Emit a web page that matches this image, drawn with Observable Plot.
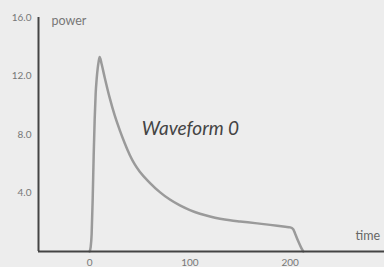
<!DOCTYPE html>
<html>
<head>
<meta charset="utf-8">
<script src="https://cdn.jsdelivr.net/npm/d3@7"></script>
<script src="https://cdn.jsdelivr.net/npm/@observablehq/plot@0.6"></script>
<style>
  html, body { margin: 0; padding: 0; background: #ededed; }
  #chart svg { display: block; background: #ededed; }
</style>
</head>
<body>
<div id="chart"></div>
<script>
const times  = [0, 1, 2, 3, 4, 5, 6, 7, 8, 9, 10, 12, 15, 20, 25, 30, 35, 40, 45, 50, 60, 70, 80, 90, 100, 110, 120, 130, 140, 150, 165, 180, 195, 200, 203, 205, 208, 211, 213];
const powers = [0, 0.3, 1.2, 3.5, 6.5, 9.0, 10.8, 11.8, 12.5, 13.0, 13.3, 12.8, 11.9, 10.5, 9.3, 8.3, 7.4, 6.6, 5.95, 5.45, 4.7, 4.06, 3.55, 3.15, 2.83, 2.58, 2.39, 2.24, 2.13, 2.05, 1.94, 1.82, 1.69, 1.65, 1.52, 1.2, 0.7, 0.25, 0];
const xTicks = [0, 100, 200];
const yTicks = [4, 8, 12, 16];
const seriesName = "Waveform 0";
const xLabel = "time";
const yLabel = "power";

const data = times.map((t, i) => ({time: t, power: powers[i]}));
const font = "Lato, 'Open Sans', sans-serif";

const chart = Plot.plot({
  width: 384,
  height: 267,
  marginLeft: 38,
  marginRight: 0,
  marginTop: 17,
  marginBottom: 16,
  style: {background: "#ededed", fontFamily: font},
  x: {domain: [-51, 294], ticks: xTicks, tickSize: 0, tickPadding: 7, label: null, tickFormat: d3.format("d")},
  y: {domain: [0, 16], ticks: yTicks, tickSize: 0, tickPadding: 7, label: null, tickFormat: d3.format(".1f")},
  marks: [
    Plot.axisX({ticks: xTicks, tickSize: 0, tickPadding: 7, fill: "#777", fontSize: 10, label: null, tickFormat: d3.format("d")}),
    Plot.axisY({ticks: yTicks, tickSize: 0, tickPadding: 7, fill: "#777", fontSize: 10, label: null, tickFormat: d3.format(".1f")}),
    Plot.line(data, {x: "time", y: "power", stroke: "#9a9a9a", strokeWidth: 2.5, curve: "monotone-x"}),
    Plot.ruleX([-51], {stroke: "#444", strokeWidth: 2, y1: 0, y2: 16}),
    Plot.ruleY([0], {stroke: "#444", strokeWidth: 2}),
    Plot.text([yLabel], {frameAnchor: "top-left", dx: 13, dy: -1, textAnchor: "start", fill: "#777", fontSize: 12.5}),
    Plot.text([xLabel], {frameAnchor: "bottom-right", dx: -29, dy: -12, textAnchor: "start", fill: "#666", fontSize: 12.5}),
    Plot.text([seriesName], {x: 52, y: 8.4, textAnchor: "start", fill: "#444", fontSize: 19, fontStyle: "italic"})
  ]
});
document.getElementById("chart").appendChild(chart);
</script>
</body>
</html>
